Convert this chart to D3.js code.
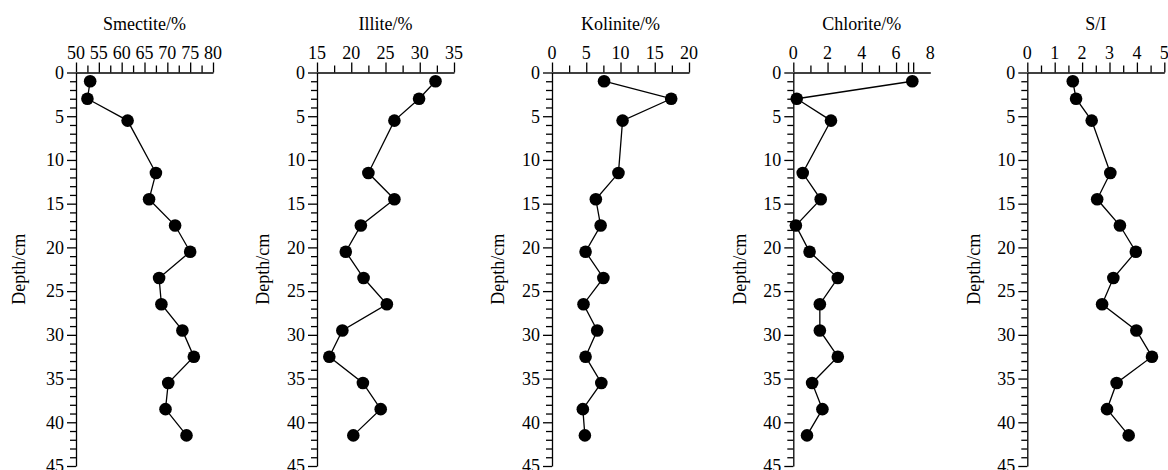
<!DOCTYPE html>
<html>
<head>
<meta charset="utf-8">
<script src="https://cdn.jsdelivr.net/npm/d3@7"></script>
<style>
  html, body { margin: 0; padding: 0; background: #fff; }
  svg { display: block; }
  text { font-family: "Liberation Serif", "Times New Roman", serif; fill: #000; }
</style>
</head>
<body>
<svg id="chart" width="1168" height="470"></svg>
<script>
// ---- Data ----
const depths   = [1, 3, 5.5, 11.5, 14.5, 17.5, 20.5, 23.5, 26.5, 29.5, 32.5, 35.5, 38.5, 41.5];
const smectite = [53.1, 52.5, 61.3, 67.5, 66.0, 71.7, 75.0, 68.2, 68.7, 73.3, 75.8, 70.2, 69.6, 74.2];
const illite   = [32.3, 29.9, 26.3, 22.5, 26.3, 21.4, 19.2, 21.8, 25.2, 18.7, 16.8, 21.7, 24.3, 20.3];
const kolinite = [7.6, 17.4, 10.3, 9.7, 6.4, 7.1, 4.9, 7.5, 4.6, 6.6, 4.9, 7.2, 4.5, 4.8];
const chlorite = [6.95, 0.2, 2.2, 0.55, 1.6, 0.15, 0.95, 2.6, 1.55, 1.55, 2.6, 1.1, 1.7, 0.8];
const siRatio  = [1.66, 1.78, 2.35, 3.03, 2.55, 3.38, 3.96, 3.14, 2.73, 3.98, 4.55, 3.26, 2.91, 3.7];

const titles = ["Smectite/%", "Illite/%", "Kolinite/%", "Chlorite/%", "S/I"];
const domains = [[50, 80], [15, 35], [0, 20], [0, 8], [0, 5]];
const labelTicks = [
  [50, 55, 60, 65, 70, 75, 80],
  [15, 20, 25, 30, 35],
  [0, 5, 10, 15, 20],
  [0, 2, 4, 6, 8],
  [0, 1, 2, 3, 4, 5]
];
const majorTicks = [
  [50, 55, 60, 65, 70, 75, 80],
  [15, 20, 25, 30, 35],
  [0, 5, 10, 15, 20],
  [0, 2, 4, 6, 6.7, 7],
  [0, 1, 2, 3, 4, 5]
];
const minorTicks = [
  [52.5, 57.5, 62.5, 67.5, 72.5, 77.5],
  [17.5, 22.5, 27.5, 32.5],
  [2.5, 7.5, 12.5, 17.5],
  [1, 3, 5],
  [0.5, 1.5, 2.5, 3.5, 4.5]
];
const depthDomain = [0, 45];
const depthLabelTicks = [0, 5, 10, 15, 20, 25, 30, 35, 40, 45];
const depthMinorTicks = d3.range(0, 46).filter(d => d % 5 !== 0);
const seriesList = [smectite, illite, kolinite, chlorite, siRatio];

// ---- Layout ----
const panelX = [76, 317, 552, 793.3, 1027.3];
const yLabelOffset = [57, 54, 54, 54, 54];
const plotW = 137;
const plotTop = 72.5, plotBottom = 466;
const fontSize = 18;

const svg = d3.select("#chart");
const y = d3.scaleLinear().domain(depthDomain).range([plotTop, plotBottom]);

seriesList.forEach((vals, i) => {
  const x0 = panelX[i];
  const x = d3.scaleLinear().domain(domains[i]).range([x0, x0 + plotW]);
  const g = svg.append("g");

  // Title
  g.append("text")
    .attr("x", x0 + plotW / 2).attr("y", 30)
    .attr("text-anchor", "middle")
    .style("font-size", fontSize + "px")
    .text(titles[i]);

  // X axis: domain line + major ticks
  g.append("g").attr("transform", `translate(0,${plotTop})`)
    .call(d3.axisTop(x).tickValues(majorTicks[i]).tickSize(10).tickSizeOuter(0).tickFormat(""));
  const xMin = g.append("g").attr("transform", `translate(0,${plotTop})`)
    .call(d3.axisTop(x).tickValues(minorTicks[i]).tickSize(7).tickSizeOuter(0).tickFormat(""));
  xMin.select(".domain").remove();
  // X labels
  g.selectAll(".xl").data(labelTicks[i]).enter().append("text")
    .attr("x", d => x(d)).attr("y", plotTop - 14)
    .attr("text-anchor", "middle")
    .style("font-size", fontSize + "px")
    .text(d => d);

  // Y axis
  g.append("g").attr("transform", `translate(${x0},0)`)
    .call(d3.axisLeft(y).tickValues(depthLabelTicks).tickSize(9).tickSizeOuter(0).tickFormat(""));
  const yMin = g.append("g").attr("transform", `translate(${x0},0)`)
    .call(d3.axisLeft(y).tickValues(depthMinorTicks).tickSize(6).tickSizeOuter(0).tickFormat(""));
  yMin.select(".domain").remove();
  g.selectAll(".yl").data(depthLabelTicks).enter().append("text")
    .attr("x", x0 - 12).attr("y", d => y(d))
    .attr("dy", "0.35em")
    .attr("text-anchor", "end")
    .style("font-size", fontSize + "px")
    .text(d => d);

  g.selectAll(".domain, .tick line").attr("stroke", "#000").attr("stroke-width", 1.3);

  // Y label
  g.append("text")
    .attr("transform", `translate(${x0 - yLabelOffset[i]},${(plotTop + plotBottom) / 2}) rotate(-90)`)
    .attr("text-anchor", "middle")
    .attr("dy", "0.35em")
    .style("font-size", fontSize + "px")
    .text("Depth/cm");

  // Line + points
  const pts = vals.map((v, k) => [v, depths[k]]);
  g.append("path")
    .datum(pts)
    .attr("fill", "none").attr("stroke", "#000").attr("stroke-width", 1.3)
    .attr("d", d3.line().x(d => x(d[0])).y(d => y(d[1])));
  g.selectAll("circle").data(pts).enter().append("circle")
    .attr("cx", d => x(d[0])).attr("cy", d => y(d[1]))
    .attr("r", 6.3).attr("fill", "#000");
});
</script>
</body>
</html>
